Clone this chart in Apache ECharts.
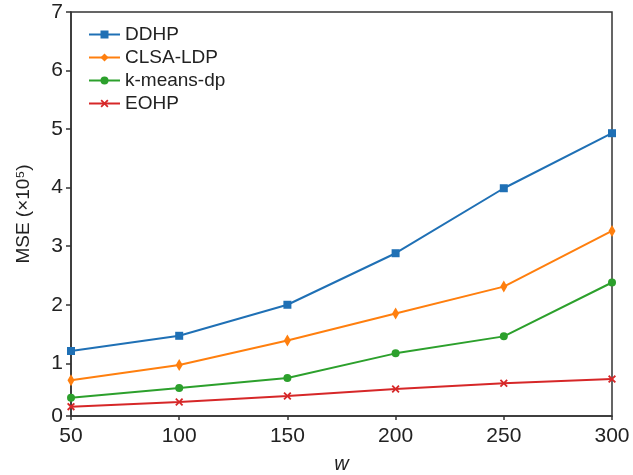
<!DOCTYPE html>
<html>
<head>
<meta charset="utf-8">
<script src="https://cdn.jsdelivr.net/npm/echarts@6/dist/echarts.min.js"></script>
<style>html,body{margin:0;padding:0;background:#fff;}#c{width:633px;height:475px;}</style>
</head>
<body>
<div id="c"></div>
<script>
const xValues = [50, 100, 150, 200, 250, 300];
const ddhp    = [1.21, 1.47, 2.00, 2.88, 3.99, 4.93];
const clsaLdp = [0.71, 0.97, 1.39, 1.85, 2.31, 3.26];
const kmeans  = [0.41, 0.58, 0.75, 1.17, 1.46, 2.38];
const eohp    = [0.26, 0.34, 0.44, 0.56, 0.66, 0.73];
const seriesNames = ['DDHP', 'CLSA-LDP', 'k-means-dp', 'EOHP'];

const FONT = 'Liberation Sans, Arial, sans-serif';
const xMark = 'path://M0,1.6L1.6,0L5,3.4L8.4,0L10,1.6L6.6,5L10,8.4L8.4,10L5,6.6L1.6,10L0,8.4L3.4,5Z';

function pairs(vals) { return xValues.map((x, i) => [x, vals[i]]); }

function mk(name, data, color, symbol, size) {
  return {
    name, type: 'line', data: pairs(data),
    symbol, symbolSize: size,
    lineStyle: { color, width: 2 },
    itemStyle: { color },
    emphasis: { disabled: true },
    animation: false
  };
}

const chart = echarts.init(document.getElementById('c'), null, { renderer: 'canvas' });
chart.setOption({
  backgroundColor: '#fff',
  animation: false,
  textStyle: { fontFamily: FONT },
  grid: {
    left: 71, right: 21, top: 12, bottom: 59,
    outerBoundsMode: 'none', containLabel: false,
    show: true, borderColor: '#333', borderWidth: 1.5, backgroundColor: 'transparent'
  },
  legend: {
    orient: 'vertical', left: 83, top: 20,
    itemWidth: 31, itemHeight: 10, itemGap: 4,
    textStyle: { fontFamily: FONT, fontSize: 19, color: '#222', lineHeight: 19 },
    data: seriesNames
  },
  xAxis: {
    type: 'value', min: 50, max: 300, interval: 50,
    name: 'w', nameLocation: 'middle', nameGap: 38,
    nameTextStyle: { fontFamily: FONT, fontSize: 20, fontStyle: 'italic', color: '#222' },
    axisLine: { lineStyle: { color: '#333', width: 1.5 } },
    axisTick: { inside: false, length: 4, lineStyle: { color: '#333', width: 1.5 } },
    axisLabel: { fontFamily: FONT, fontSize: 21, color: '#222', margin: 10 },
    splitLine: { show: false }
  },
  yAxis: {
    type: 'value', min: 0.1, max: 7, splitNumber: 7,
    name: 'MSE (×10⁵)', nameLocation: 'middle', nameGap: 38, nameRotate: 90,
    nameTextStyle: { fontFamily: FONT, fontSize: 19, color: '#222' },
    axisLine: { show: true, lineStyle: { color: '#333', width: 1.5 } },
    axisTick: { show: true, inside: false, length: 5, lineStyle: { color: '#333', width: 1.5 } },
    axisLabel: {
      fontFamily: FONT, fontSize: 21, color: '#222', margin: 8,
      formatter: v => (v < 0.5 ? '0' : String(Math.round(v)))
    },
    splitLine: { show: false }
  },
  series: [
    mk(seriesNames[0], ddhp, '#1f70b5', 'rect', 8),
    mk(seriesNames[1], clsaLdp, '#ff7f0e', 'diamond', [7, 12]),
    mk(seriesNames[2], kmeans, '#2ca02c', 'circle', 8),
    mk(seriesNames[3], eohp, '#d62728', xMark, 8)
  ]
});
</script>
</body>
</html>
